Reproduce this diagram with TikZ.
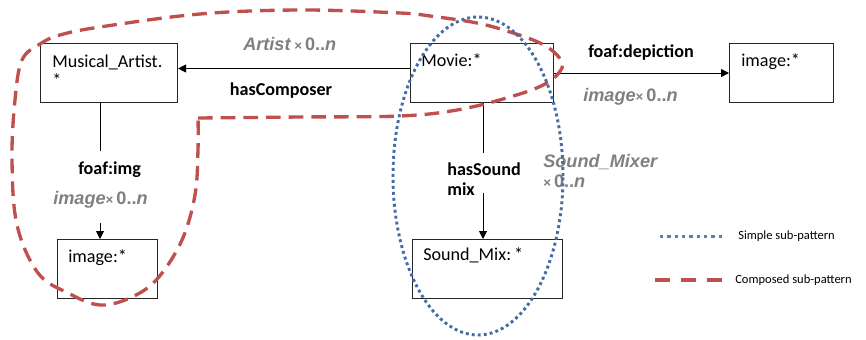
\documentclass[tikz,border=0pt]{standalone}
\usepackage{fontspec}
\setmainfont{Carlito}
\newfontfamily\grayfont{Liberation Sans}
\usetikzlibrary{arrows.meta}
\definecolor{redd}{RGB}{192,80,77}
\definecolor{blued}{RGB}{70,108,165}
\definecolor{bluel}{RGB}{79,129,189}
\definecolor{grayt}{RGB}{128,128,128}
\newcommand\tms{{\fontsize{10}{10}\selectfont ×}}
\begin{document}
\begin{tikzpicture}[x=0.75pt,y=-0.75pt,
  box/.style={draw=black!85, line width=0.8pt, inner sep=0pt, anchor=north west, minimum height=44.25pt},
  btxt/.style={inner sep=0pt, anchor=base west, align=left, font=\fontsize{13.6}{14}\selectfont},
  lbl/.style={inner sep=0pt, font=\fontsize{13.6}{15}\selectfont\bfseries},
  mlt/.style={inner sep=0pt, text=grayt, font=\grayfont\fontsize{13.6}{15}\selectfont\bfseries},
  leg/.style={inner sep=0pt, anchor=base west, font=\fontsize{9.4}{11}\selectfont},
  arr/.style={draw=black, line width=0.75pt, -{Triangle[length=6pt,width=6pt]}},
  reddash/.style={draw=redd, line width=2.5pt, dash pattern=on 11pt off 6pt},
  bluedot/.style={draw=blued, line width=2.2pt, dash pattern=on 2.2pt off 2.3pt}
]
\useasboundingbox (0,0) rectangle (866,339);

% boxes
\node[box, minimum width=102.75pt] (ma) at (40,43) {};
\node[box, minimum width=107.25pt] (mov) at (410,43) {};
\node[box, minimum width=78pt] (img2) at (729,43) {};
\node[box, minimum width=75pt] (img1) at (57,239) {};
\node[box, minimum width=112.5pt] (sm) at (412,239) {};

% box texts (multi-line nodes: base = last line)
\node[btxt] (tma) at (52,86) {Musical\_Artist.\\*};
\node[btxt] (tmov) at (421,66) {Movie:*};
\node[btxt] (timg2) at (741,66) {image:*};
\node[btxt] (timg1) at (68,262) {image:*};
\node[btxt] (tsm) at (423,260) {Sound\_Mix:\,*};

% connectors
\coordinate (xl) at (100,0);
\coordinate (xr) at (483,0);
\draw[arr] ([yshift=3.4pt]mov.west) -- ([yshift=3.4pt]ma.east);
\draw[arr] (mov.east) -- (img2.west);
\draw[arr, dash pattern=on 36pt off 54pt on 300pt] (ma.south -| xl) -- (img1.north -| xl);
\draw[arr, dash pattern=on 37.5pt off 30pt on 300pt] (mov.south -| xr) -- (sm.north -| xr);

% labels
\node[lbl, anchor=base] (lcomp) at (281,95) {hasComposer};
\node[mlt, anchor=base west] (lart) at (243,50) {\textit{Artist}\,\tms\,0..\textit{n}};
\node[lbl, anchor=base west] (ldep) at (588,57) {foaf:depiction};
\node[mlt, anchor=base west] (limg2) at (583,101) {\textit{image}\tms\,0..\textit{n}};
\node[lbl, anchor=base west] (lfimg) at (78,174) {foaf:img};
\node[mlt, anchor=base west] (limg1) at (53,204) {\textit{image}\tms\,0..\textit{n}};
\node[lbl, anchor=base west, align=left] (lsnd) at (447,195) {hasSound\\mix};
\node[mlt, anchor=base west, align=left] (lmix) at (543,187) {\textit{Sound\_Mixer}\\\tms\,0..\textit{n}};

% sub-pattern outlines
\draw[reddash] plot[smooth, tension=0.6] coordinates {(198,118) (300,117) (400,116) (457,110) (510,97) (545,84) (562,68) (557,55) (540,43) (510,32) (477,23) (430,16) (400,13) (300,10) (200,14) (100,27) (60,35) (40,44) (22,60) (15,100) (12,160) (17,225) (38,273) (68,293) (100,305) (132,297) (158,278) (182,240) (195,195) (198,150) (198,118)};
\draw[bluedot] (478,176) ellipse [x radius=63.75pt, y radius=119.25pt];

% legend
\coordinate (l1a) at (660,236);
\coordinate (l1b) at (722,236);
\coordinate (l2a) at (655,280);
\coordinate (l2b) at (722,280);
\draw[draw=bluel, line width=2.25pt, dash pattern=on 2.4pt off 3.1pt] (l1a) -- (l1b);
\draw[draw=redd, line width=3pt, dash pattern=on 11.25pt off 8.25pt] (l2a) -- (l2b);
\node[leg] (tl1) at (738,239) {Simple sub-pattern};
\node[leg] (tl2) at (735,283) {Composed sub-pattern};
\end{tikzpicture}
\end{document}
